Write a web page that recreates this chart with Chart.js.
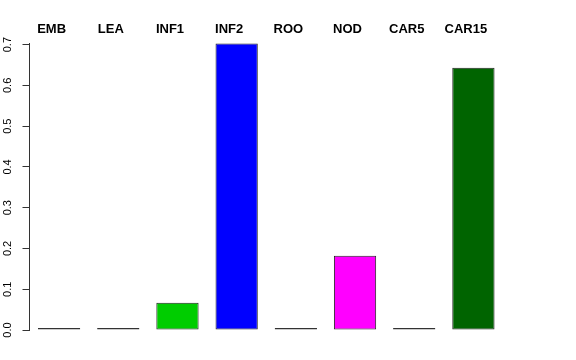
<!DOCTYPE html>
<html>
<head>
<meta charset="utf-8">
<script src="https://cdn.jsdelivr.net/npm/chart.js@4/dist/chart.umd.min.js"></script>
<style>
html,body{margin:0;padding:0;background:#fff;}
#wrap{width:576px;height:360px;position:relative;}
</style>
</head>
<body>
<div id="wrap"><canvas id="c" width="576" height="360"></canvas></div>
<script>
const categories = ["EMB", "LEA", "INF1", "INF2", "ROO", "NOD", "CAR5", "CAR15"];
const values = [0, 0, 0.067, 0.703, 0, 0.182, 0, 0.643];
const barColors = ["#333333", "#333333", "#00CD00", "#0000FF", "#333333", "#FF00FF", "#333333", "#006400"];
const edgeColors = ["#333333", "#333333", "#222222", "#222222", "#333333", "#222222", "#333333", "#222222"];
const yTicks = [0, 0.1, 0.2, 0.3, 0.4, 0.5, 0.6, 0.7];

const noPad = (axis) => { axis.paddingTop = 0; axis.paddingBottom = 0; axis.paddingLeft = 0; axis.paddingRight = 0; };

new Chart(document.getElementById('c'), {
  type: 'bar',
  data: {
    labels: categories,
    datasets: [{
      data: values,
      backgroundColor: barColors,
      borderColor: edgeColors,
      borderWidth: 1,
      borderSkipped: false,
      minBarLength: 2,
      clip: false,
      categoryPercentage: 1,
      barPercentage: 1 / 1.4
    }]
  },
  options: {
    responsive: false,
    animation: false,
    devicePixelRatio: 1,
    layout: { padding: { left: 2.3, right: 73, top: 21, bottom: 30 } },
    plugins: { legend: { display: false }, tooltip: { enabled: false } },
    scales: {
      x: {
        position: 'top',
        afterFit: (axis) => { noPad(axis); axis.height = 22; },
        grid: { display: false, drawTicks: false },
        border: { display: false },
        ticks: {
          color: '#000',
          font: { family: 'Liberation Sans, Arial, sans-serif', size: 13, weight: 'bold' },
          labelOffset: -7.5,
          padding: 6.2,
          maxRotation: 0,
          minRotation: 0
        }
      },
      y: {
        min: 0,
        max: 0.704,
        afterFit: (axis) => { noPad(axis); axis.width = 27.2; },
        afterBuildTicks: (axis) => { axis.ticks = yTicks.map(v => ({ value: v })); },
        grid: { drawOnChartArea: false, tickLength: 7, color: '#333', tickWidth: 1 },
        border: { display: true, color: '#333', width: 1 },
        ticks: {
          color: '#000',
          font: { family: 'Liberation Sans, Arial, sans-serif', size: 11 },
          minRotation: 90,
          maxRotation: 90,
          crossAlign: 'center',
          padding: 7,
          callback: (v) => Number(v).toFixed(1)
        }
      }
    }
  }
});
</script>
</body>
</html>
